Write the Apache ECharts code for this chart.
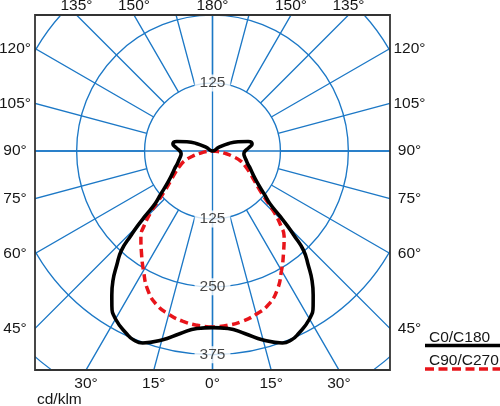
<!DOCTYPE html>
<html><head><meta charset="utf-8">
<script src="https://cdn.jsdelivr.net/npm/echarts@6/dist/echarts.min.js"></script>
<style>html,body{margin:0;padding:0;background:#fff}#c{width:500px;height:406px}</style>
</head><body><div id="c"></div>
<script>
// ---- data (half profiles, symmetric planes) ----
const c0Gamma  = [0,5,10,15,20,22.5,25,30,33,35,37.5,40,42.5,44,45,46,47.5,50,55,60,65,70,75,80,85,90,95,100,105,110,115,120,125];
const c0Values = [325,328,341,360,376,377,372,357,340,323,301,274,248,216,195,172,143,125,100,86,77,69,64,60,58,60,67,74,68,50,33,13,0];
const c90Gamma  = [0,5,10,15,20,25,30,35,40,42.5,45,47.5,50,55,60,65,70,75,80,85,90];
const c90Values = [324,322,318,311,301,282,254,228,205,186,162,135,115,93,79,67,56,39,22,10,0];
const radialTicks = [125,250,375,500];
const radialLabelsBottom = [125,250,375];
const radialLabelsTop = [125];
const angleLabelGammas = [0,15,30,45,60,75,90,105,120,135,150,180];
const seriesNames = ['C0/C180','C90/C270'];
const unitLabel = 'cd/klm';

// ---- layout ----
const CX = 212.5, CY = 151, RMAX = 530, RPX = 288, K = RPX / RMAX;
const BOX = {l:35, t:15, r:390, b:370};
const GRID = '#1c78c6', TXT = '#161616', FONT = '15.5px "Liberation Sans", Arial, sans-serif';

function mirror(gammas, values){
  const out = [];
  for (let i = 0; i < gammas.length; i++) out.push([values[i], gammas[i]]);
  for (let i = gammas.length - 2; i >= 0; i--) out.push([values[i], 360 - gammas[i]]);
  return out;
}
function boxHit(g, side){
  const rad = g * Math.PI / 180;
  const dx = side * Math.sin(rad), dy = Math.cos(rad);
  let t = Infinity, edge = null;
  if (dx < -1e-9){ const tt = (BOX.l - CX) / dx; if (tt < t){ t = tt; edge = 'l'; } }
  if (dx >  1e-9){ const tt = (BOX.r - CX) / dx; if (tt < t){ t = tt; edge = 'r'; } }
  if (dy >  1e-9){ const tt = (BOX.b - CY) / dy; if (tt < t){ t = tt; edge = 'b'; } }
  if (dy < -1e-9){ const tt = (BOX.t - CY) / dy; if (tt < t){ t = tt; edge = 't'; } }
  return {x: CX + dx * t, y: CY + dy * t, edge};
}
function textEl(text, x, y, align, z){
  return {type:'text', z: z || 20, silent:true,
    style:{text, x, y, font: FONT, fill: TXT, textAlign: align || 'center', align: align || 'center',
           textVerticalAlign:'middle', verticalAlign:'middle'}};
}

const graphics = [
  {type:'rect', z:10, silent:true, shape:{x:0, y:0, width:BOX.l, height:406}, style:{fill:'#fff'}},
  {type:'rect', z:10, silent:true, shape:{x:BOX.r, y:0, width:500-BOX.r, height:406}, style:{fill:'#fff'}},
  {type:'rect', z:10, silent:true, shape:{x:0, y:0, width:500, height:BOX.t}, style:{fill:'#fff'}},
  {type:'rect', z:10, silent:true, shape:{x:0, y:BOX.b, width:500, height:406-BOX.b}, style:{fill:'#fff'}},
  {type:'rect', z:11, silent:true, shape:{x:BOX.l, y:BOX.t, width:BOX.r-BOX.l, height:BOX.b-BOX.t},
    style:{fill:'none', stroke:'#333', lineWidth:1.8}}
];
angleLabelGammas.forEach(g => {
  const sides = (g === 0 || g === 180) ? [1] : [-1, 1];
  sides.forEach(s => {
    const h = boxHit(g, s);
    let x = h.x, y = h.y;
    if (h.edge === 'l') x = BOX.l - 20;
    else if (h.edge === 'r') x = BOX.r + 19.5;
    else if (h.edge === 'b') y = BOX.b + 14;
    else if (h.edge === 't') y = BOX.t - 9;
    graphics.push(textEl(g + '°', x, y, 'center'));
  });
});
graphics.push(textEl(unitLabel, 37, 399.5, 'left'));
// legend (text above, line sample below)
graphics.push(textEl(seriesNames[0], 429, 338, 'left'));
graphics.push({type:'line', z:20, silent:true, shape:{x1:425, y1:345.5, x2:500, y2:345.5},
  style:{stroke:'#000', lineWidth:3.5}});
graphics.push(textEl(seriesNames[1], 429, 361, 'left'));
graphics.push({type:'line', z:20, silent:true, shape:{x1:425, y1:369, x2:500, y2:369},
  style:{stroke:'#e8141a', lineWidth:3.5, lineDash:[9,4.5]}});

const labelData = radialLabelsBottom.map(v => [v, 0]).concat(radialLabelsTop.map(v => [v, 180]));

const option = {
  animation: false,
  backgroundColor: '#fff',
  polar: [
    {center:[CX, CY], radius: RPX},
    {center:[CX, CY], radius: [radialTicks[0] * K, RPX]}
  ],
  angleAxis: [
    {polarIndex:0, type:'value', min:0, max:360, interval:90, startAngle:270, clockwise:true,
     axisLine:{show:false}, axisTick:{show:false}, axisLabel:{show:false},
     splitLine:{show:true, lineStyle:{color:GRID, width:1.35}}},
    {polarIndex:1, type:'value', min:0, max:360, interval:15, startAngle:270, clockwise:true,
     axisLine:{show:false}, axisTick:{show:false}, axisLabel:{show:false},
     splitLine:{show:true, lineStyle:{color:GRID, width:1.35}}}
  ],
  radiusAxis: [
    {polarIndex:0, type:'value', min:0, max:RMAX, interval:radialTicks[0],
     axisLine:{show:false}, axisTick:{show:false}, axisLabel:{show:false},
     splitLine:{show:true, lineStyle:{color:GRID, width:1.35}}},
    {polarIndex:1, type:'value', min:radialTicks[0], max:RMAX,
     axisLine:{show:false}, axisTick:{show:false}, axisLabel:{show:false}, splitLine:{show:false}}
  ],
  series: [
    {name: seriesNames[1], type:'line', coordinateSystem:'polar', polarIndex:0, z:3,
     data: mirror(c90Gamma, c90Values), symbol:'none', smooth:true,
     lineStyle:{color:'#e8141a', width:3.5, type:[8,4.5]}},
    {name: seriesNames[0], type:'line', coordinateSystem:'polar', polarIndex:0, z:4,
     data: mirror(c0Gamma, c0Values), symbol:'none', smooth:true,
     lineStyle:{color:'#000', width:3.6}},
    {type:'scatter', coordinateSystem:'polar', polarIndex:0, z:5, symbolSize:1,
     itemStyle:{color:'rgba(0,0,0,0)'}, data: labelData, silent:true,
     label:{show:true, position:'inside', formatter: p => String(p.value[0]),
            color:TXT, fontSize:15.5, fontFamily:'"Liberation Sans", Arial, sans-serif',
            backgroundColor:'#fff', padding:[1,5], lineHeight:15}}
  ],
  graphic: graphics
};
const chart = echarts.init(document.getElementById('c'), null, {renderer:'canvas'});
chart.setOption(option);
</script>
</body></html>
